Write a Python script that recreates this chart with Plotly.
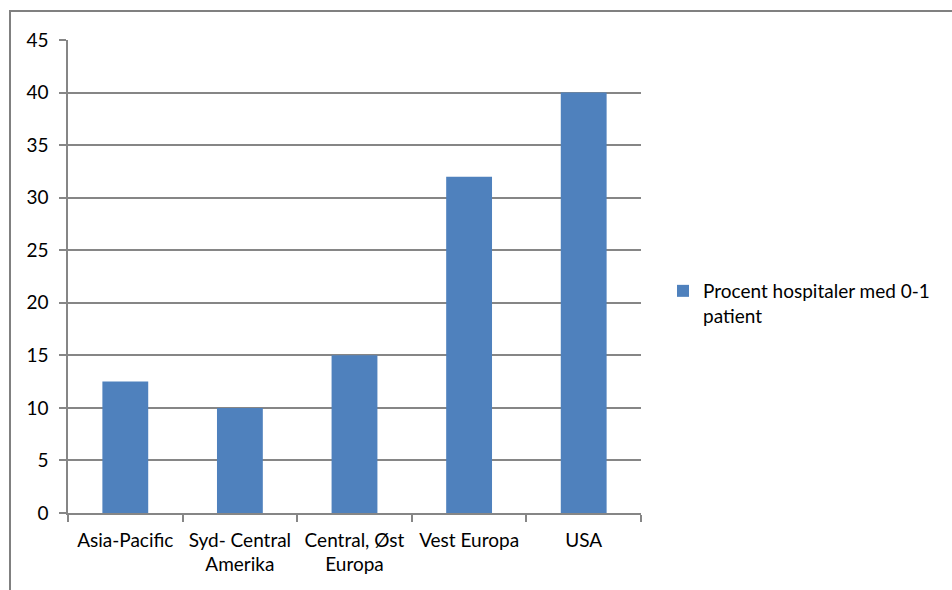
import plotly.graph_objects as go

categories = ["Asia-Pacific", "Syd- Central<br>Amerika", "Central, Øst<br>Europa", "Vest Europa", "USA"]
values = [12.5, 10, 15, 32, 40]
series_name = "Procent hospitaler med 0-1<br>patient"
y_ticks = [0, 5, 10, 15, 20, 25, 30, 35, 40, 45]

W, H = 952, 590
L, R, T, B = 68, 952 - 641, 40, 590 - 513
pw, ph = W - L - R, H - T - B

FONT = "Lato"
GRAY = "#868686"
FS = 19

fig = go.Figure()
fig.add_trace(go.Bar(
    x=categories, y=values, name=series_name,
    marker=dict(color="#4F81BD", line=dict(width=0)),
    showlegend=True,
))

fig.update_layout(
    width=W, height=H,
    margin=dict(l=L, r=R, t=T, b=B, pad=0),
    paper_bgcolor="white", plot_bgcolor="white",
    font=dict(family=FONT, size=FS, color="black"),
    bargap=0.6,
    showlegend=True,
    legend=dict(x=(663 - L) / pw, xanchor="left", y=(H - 272 - B) / ph, yanchor="top",
                font=dict(family=FONT, size=FS, color="black"),
                itemwidth=30, valign="top", bgcolor="rgba(0,0,0,0)"),
    xaxis=dict(
        type="category", showline=True, linecolor=GRAY, linewidth=1.5,
        ticks="outside", ticklen=7, tickcolor=GRAY, tickwidth=1.5,
        tickson="boundaries", showgrid=False, ticklabelstandoff=9,
        tickfont=dict(family=FONT, size=FS, color="black"),
    ),
    yaxis=dict(
        range=[0, 45], tickvals=y_ticks, showline=True, linecolor=GRAY, linewidth=1.5,
        ticks="outside", ticklen=7, tickcolor=GRAY, tickwidth=1.5,
        showgrid=True, gridcolor=GRAY, gridwidth=1.5, zeroline=False,
        ticklabelstandoff=7,
        tickfont=dict(family=FONT, size=FS, color="black"),
    ),
    shapes=[
        dict(type="line", xref="paper", yref="paper",
             x0=(10 - L) / pw, x1=(10 - L) / pw,
             y0=(H - 600 - B) / ph, y1=(H - 10 - B) / ph,
             line=dict(color="#808080", width=2)),
        dict(type="line", xref="paper", yref="paper",
             x0=(9 - L) / pw, x1=(W + 10 - L) / pw,
             y0=(H - 11 - B) / ph, y1=(H - 11 - B) / ph,
             line=dict(color="#808080", width=2)),
    ],
)

fig.write_html("out.html")
